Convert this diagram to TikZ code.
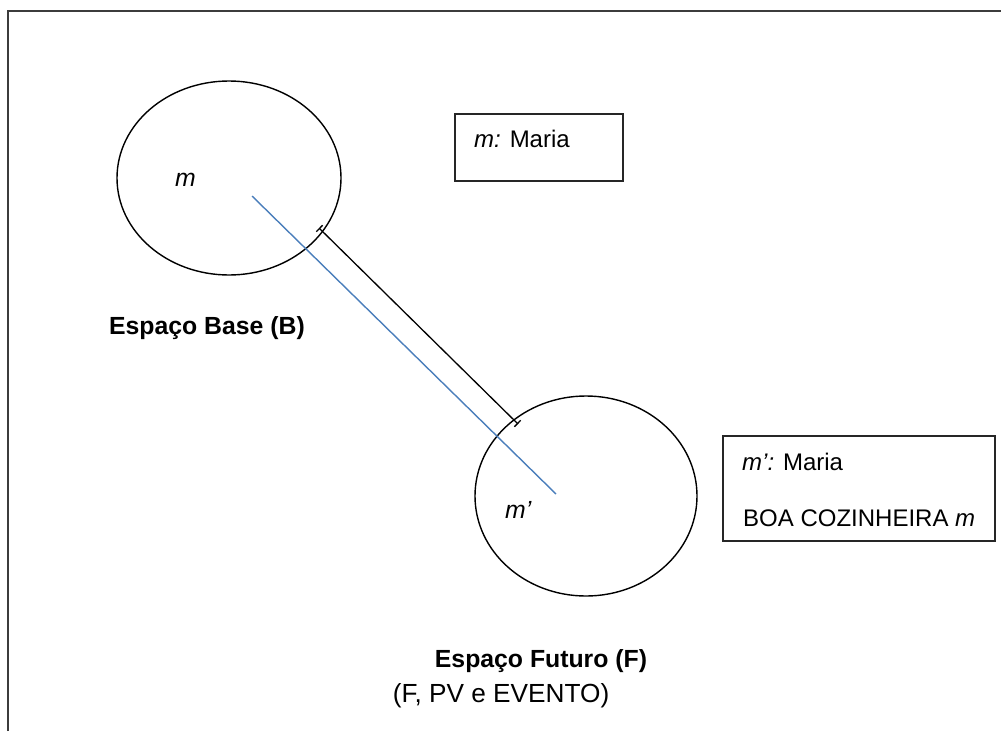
\documentclass[tikz,border=0pt]{standalone}
\usepackage{fontspec}
\setmainfont{Liberation Sans}
\usetikzlibrary{arrows.meta,shapes.geometric}
\definecolor{linkblue}{RGB}{74,126,187}
\definecolor{framegray}{RGB}{60,60,60}
\tikzset{
  txt/.style={inner sep=0pt, font=\fontsize{24.8}{29}\selectfont},
  boxtxt/.style={inner sep=0pt, font=\fontsize{24}{28}\selectfont},
  ttl/.style={txt, font=\fontsize{24.8}{29}\selectfont\bfseries},
  spacecircle/.style={draw=black, line width=1.4pt, ellipse, inner sep=0pt},
  infobox/.style={draw=black!85, line width=2pt},
}
\begin{document}
\begin{tikzpicture}[x=1pt, y=-1pt]
\useasboundingbox (0,0) rectangle (1001,731);
% outer frame (top and left edges)
\draw[framegray, line width=2.2pt] (8,731) -- (8,11) -- (1001,11);

% mental spaces
\node[spacecircle, minimum width=224pt, minimum height=194pt] (spB) at (229,178) {};
\node[spacecircle, minimum width=222pt, minimum height=200pt] (spF) at (586,496) {};
\node[txt, anchor=base west] (mB) at (175,186) {\textit{m}};
\node[txt, anchor=base west] (mF) at (505,518) {\textit{m’}};
\node[ttl, anchor=base] (B) at (207,334) {Espaço Base (B)};
\node[ttl, anchor=base] (F) at (541,667) {Espaço Futuro (F)};
\node[txt, anchor=base, font=\fontsize{26.2}{30}\selectfont] (Fsub) at (501,702) {(F, PV e EVENTO)};

% connectors between the spaces
\coordinate (bStart) at (252,196);
\coordinate (bEnd) at (556,494);
\coordinate (kStart) at (319,228);
\coordinate (kEnd) at (518,424);
\draw[linkblue, line width=1.4pt] (bStart) -- (bEnd);
\draw[black, line width=1.3pt, {Bar[width=9pt]}-{Bar[width=9pt]}] (kStart) -- (kEnd);

% annotation boxes
\draw[infobox] (455,114) rectangle (623,181);
\node[boxtxt, anchor=base west] (boxB) at (474,147) {\textit{m:} Maria};
\draw[infobox] (723,436) rectangle (995,541);
\node[boxtxt, anchor=base west] (boxF1) at (742,470) {\textit{m’:} Maria};
\node[boxtxt, anchor=base west] (boxF2) at (743,526) {BOA COZINHEIRA \textit{m}};
\end{tikzpicture}
\end{document}
